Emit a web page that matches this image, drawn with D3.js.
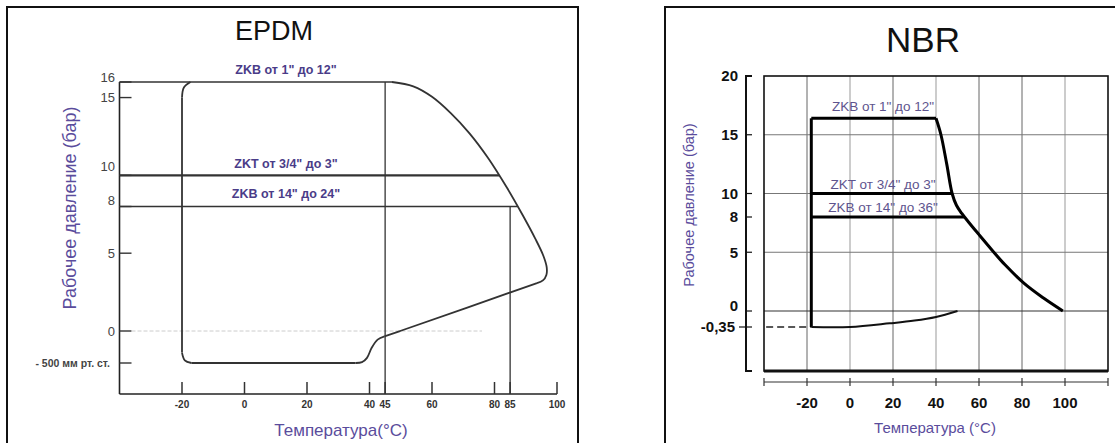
<!DOCTYPE html>
<head>
  <meta http-equiv="Content-Type" content="text/html; charset=utf-8">
  <style>
    body { margin: 0; background: #fff; }
    text { font-family: "Liberation Sans", Arial, sans-serif; }
  </style>
</head>
<body></body>
<script src="https://d3js.org/d3.v7.min.js"></script>
<script>

var width = 1115,
    height = 443;

// ---------- EPDM data ----------
var epdmXTicks = [-20, 0, 20, 40, 45, 60, 80, 85, 100];
var epdmYTicks = [16, 15, 10, 8, 5, 0, -0.667];           // -500 mm Hg ~ -0.667 bar
var epdmYLabels = ["16", "15", "10", "8", "5", "0", "- 500 мм рт. ст."];
var epdmRightCurve = [[47.2,16],[54,15.72],[60,15.05],[66,14.0],[72,12.7],[78,11.1],[84,9.2],
                      [89,7.45],[93,5.95],[95.6,4.85],[96.7,4.1],[96.6,3.6],[95.5,3.25],[93.6,3.08]];
var epdmSlope = [[93.6,3.08],[49.8,0],[44.8,-0.11]];
var epdmLowCurve = [[44.8,-0.11],[42.6,-0.18],[40.7,-0.35],[39.2,-0.56],[37.6,-0.65],[35.5,-0.667]];
var epdmBottom = [[35.5,-0.667],[-17,-0.667]];
var epdmLowCorner = [[-17,-0.667],[-19.1,-0.61],[-20,-0.45]];
var epdmLeft = [[-20,-0.45],[-20,15]];
var epdmTopCorner = [[-20,15],[-19.4,15.65],[-17.3,16]];
var epdmLines = [   // pressure level, end temperature, label
  {p: 16, to: 47.2, w: 1.4, label: 'ZKB от 1" до 12"'},
  {p: 10, to: 81.5, w: 2.4, label: 'ZKT от 3/4" до 3"'},
  {p: 8,  to: 87.4, w: 1.4, label: 'ZKB от 14" до 24"'}
];
var epdmVerticals = [{t: 45, top: 16}, {t: 85, top: 8}];

// ---------- NBR data ----------
var nbrXTicks = [-20, 0, 20, 40, 60, 80, 100];
var nbrXAxisEnds = [-40, 120];
var nbrYTicks = [20, 15, 10, 8, 5, 0, -0.35];
var nbrYLabels = ["20", "15", "10", "8", "5", "0", "-0,35"];
var nbrGridX = [-20, 0, 20, 40, 60, 80, 100];
var nbrGridY = [15, 10, 5];
var nbrTop = [[-18,16.4],[40,16.4]];
var nbrCurve = [[40,16.4],[42.3,15],[45,12.5],[47.5,10],[49.5,9],[52,8.3],[55,7.6],[60,6.5],
                [66,5.2],[72,3.95],[81,2.35],[90,1.1],[99,0]];
var nbrLeft = [[-18,16.4],[-18,-0.35]];
var nbrBottom = [[-18,-0.35],[0,-0.35],[18.5,-0.27],[30,-0.21],[40,-0.13],[50,0]];
var nbrLines = [
  {p: 10, to: 47.5, label: 'ZKT от 3/4" до 3"'},
  {p: 8,  to: 53.3, label: 'ZKB от 14" до 36"'}
];

var purple = "#5a4c9c",
    purpleDark = "#4a3c88";

var svg = d3.select("body").append("svg")
    .attr("width", width)
    .attr("height", height);

// ================= EPDM =================
var xs1 = d3.scaleLinear().domain([-40, 100]).range([119.5, 557]);
var ys1 = d3.scaleLinear().domain([-1.31, -0.667, 0, 16]).range([394, 363, 331, 82]);

var g1 = svg.append("g");

g1.append("path")
    .attr("d", "M7,446 V7 H578 V446")
    .attr("fill", "none").attr("stroke", "#111").attr("stroke-width", 2);

g1.append("text").attr("x", 274).attr("y", 40).attr("text-anchor", "middle")
    .attr("font-size", 27).attr("fill", "#111").text("EPDM");

// axes
g1.append("line").attr("x1", xs1(-40)).attr("x2", xs1(-40))
    .attr("y1", ys1(16)).attr("y2", ys1(-1.31))
    .attr("stroke", "#222").attr("stroke-width", 1.6);
g1.append("line").attr("x1", xs1(-40)).attr("x2", xs1(100))
    .attr("y1", ys1(-1.31)).attr("y2", ys1(-1.31))
    .attr("stroke", "#222").attr("stroke-width", 1.6);

g1.selectAll(".xt").data(epdmXTicks).enter().append("line")
    .attr("x1", function(d){return xs1(d);}).attr("x2", function(d){return xs1(d);})
    .attr("y1", ys1(-1.31)).attr("y2", ys1(-1.31) - 12)
    .attr("stroke", "#333").attr("stroke-width", 1.5);
g1.selectAll(".xl").data(epdmXTicks).enter().append("text")
    .attr("x", function(d){return xs1(d);}).attr("y", 408)
    .attr("text-anchor", "middle").attr("font-size", 10).attr("font-weight", "bold")
    .attr("fill", "#333").text(function(d){return d;});

var nudge1 = {16: -5, 10: -9, 8: -6};
g1.selectAll(".yt").data(epdmYTicks).enter().append("line")
    .attr("x1", xs1(-40)).attr("x2", xs1(-40) + 12)
    .attr("y1", function(d){return ys1(d);}).attr("y2", function(d){return ys1(d);})
    .attr("stroke", "#333").attr("stroke-width", 1.4);
g1.selectAll(".yl").data(epdmYTicks).enter().append("text")
    .attr("x", function(d, i){return i == 6 ? 110 : 115;})
    .attr("y", function(d){return ys1(d) + (nudge1[d] || 0);})
    .attr("dy", "0.35em").attr("text-anchor", "end")
    .attr("font-size", function(d, i){return i == 6 ? 10.5 : 13;})
    .attr("font-weight", function(d, i){return i == 6 ? "bold" : "normal";})
    .attr("fill", "#444").text(function(d, i){return epdmYLabels[i];});

// zero reference
g1.append("line").attr("x1", xs1(-40) + 12).attr("x2", xs1(76))
    .attr("y1", ys1(0)).attr("y2", ys1(0))
    .attr("stroke", "#ccc").attr("stroke-width", 1).attr("stroke-dasharray", "4,2");

// verticals
g1.selectAll(".vt").data(epdmVerticals).enter().append("line")
    .attr("x1", function(d){return xs1(d.t);}).attr("x2", function(d){return xs1(d.t);})
    .attr("y1", ys1(-1.31)).attr("y2", function(d){return ys1(d.top);})
    .attr("stroke", "#333").attr("stroke-width", 1.3);

// pressure lines
g1.selectAll(".pl").data(epdmLines).enter().append("line")
    .attr("x1", xs1(-40)).attr("x2", function(d){return xs1(d.to);})
    .attr("y1", function(d){return ys1(d.p);}).attr("y2", function(d){return ys1(d.p);})
    .attr("stroke", "#333").attr("stroke-width", function(d){return d.w;});

var labelY1 = [74, 168, 198];
g1.selectAll(".plab").data(epdmLines).enter().append("text")
    .attr("x", 286).attr("y", function(d, i){return labelY1[i];})
    .attr("text-anchor", "middle").attr("font-size", 12.5).attr("font-weight", "bold")
    .attr("fill", purpleDark).text(function(d){return d.label;});

// envelope
var line1 = d3.line()
    .x(function(d){return xs1(d[0]);})
    .y(function(d){return ys1(d[1]);})
    .curve(d3.curveCatmullRom.alpha(0.5));
[epdmRightCurve, epdmSlope, epdmLowCurve, epdmBottom, epdmLowCorner, epdmLeft, epdmTopCorner]
  .forEach(function(seg){
    g1.append("path").attr("d", line1(seg))
      .attr("fill", "none").attr("stroke", "#333").attr("stroke-width", 1.8);
  });

g1.append("text").attr("transform", "translate(76,208) rotate(-90)")
    .attr("text-anchor", "middle").attr("font-size", 18).attr("fill", purple)
    .text("Рабочее давление (бар)");
g1.append("text").attr("x", 341).attr("y", 436).attr("text-anchor", "middle")
    .attr("font-size", 17).attr("fill", purple).text("Температура(°C)");

// ================= NBR =================
var xs2 = d3.scaleLinear().domain([-40, 120]).range([764, 1108]);
var ys2 = d3.scaleLinear().domain([-1.31, -0.35, 0, 20]).range([371, 327, 311, 76]);

var g2 = svg.append("g");

g2.append("path")
    .attr("d", "M665,446 V7 H1120")
    .attr("fill", "none").attr("stroke", "#111").attr("stroke-width", 2);

g2.append("text").attr("x", 923).attr("y", 52).attr("text-anchor", "middle")
    .attr("font-size", 35).attr("fill", "#111").text("NBR");

// grid
g2.selectAll(".gx").data(nbrGridX).enter().append("line")
    .attr("x1", function(d){return xs2(d);}).attr("x2", function(d){return xs2(d);})
    .attr("y1", ys2(20)).attr("y2", ys2(-1.31))
    .attr("stroke", function(d){return (d == 0 || d == 40 || d == 100) ? "#999" : "#666";})
    .attr("stroke-width", 1);
g2.selectAll(".gy").data(nbrGridY).enter().append("line")
    .attr("x1", xs2(-40)).attr("x2", xs2(120))
    .attr("y1", function(d){return ys2(d);}).attr("y2", function(d){return ys2(d);})
    .attr("stroke", "#777").attr("stroke-width", 1);
g2.append("line")
    .attr("x1", xs2(-40)).attr("x2", xs2(120)).attr("y1", ys2(0)).attr("y2", ys2(0))
    .attr("stroke", "#333").attr("stroke-width", 1.2);

// plot frame
g2.append("rect").attr("x", xs2(-40)).attr("y", ys2(20))
    .attr("width", xs2(120) - xs2(-40)).attr("height", ys2(-1.31) - ys2(20))
    .attr("fill", "none").attr("stroke", "#111").attr("stroke-width", 1.6);
g2.append("line").attr("x1", xs2(-40)).attr("x2", xs2(120))
    .attr("y1", ys2(-1.31)).attr("y2", ys2(-1.31))
    .attr("stroke", "#111").attr("stroke-width", 3);

// y axis
g2.append("path")
    .attr("d", "M752," + ys2(20) + " H746 V" + ys2(-1.31) + " H752")
    .attr("fill", "none").attr("stroke", "#111").attr("stroke-width", 2);
g2.selectAll(".yt").data(nbrYTicks.slice(1)).enter().append("line")
    .attr("x1", function(d){return d < 0 ? 739 : 746;}).attr("x2", 752)
    .attr("y1", function(d){return ys2(d);}).attr("y2", function(d){return ys2(d);})
    .attr("stroke", "#111").attr("stroke-width", 1.2);
g2.selectAll(".yl").data(nbrYTicks).enter().append("text")
    .attr("x", function(d){return d < 0 ? 735 : 738;})
    .attr("y", function(d){return ys2(d) + (d == 0 ? -5 : 0);})
    .attr("dy", "0.35em").attr("text-anchor", "end")
    .attr("font-size", 15).attr("font-weight", "bold").attr("fill", "#111")
    .text(function(d, i){return nbrYLabels[i];});

// x axis
g2.append("line").attr("x1", xs2(-40)).attr("x2", xs2(120)).attr("y1", 382).attr("y2", 382)
    .attr("stroke", "#333").attr("stroke-width", 1.2);
g2.selectAll(".xt").data(nbrXTicks.concat(nbrXAxisEnds)).enter().append("line")
    .attr("x1", function(d){return xs2(d);}).attr("x2", function(d){return xs2(d);})
    .attr("y1", 378).attr("y2", 386)
    .attr("stroke", "#333").attr("stroke-width", 1.2);
g2.selectAll(".xl").data(nbrXTicks).enter().append("text")
    .attr("x", function(d){return xs2(d);}).attr("y", 408)
    .attr("text-anchor", "middle").attr("font-size", 15).attr("font-weight", "bold")
    .attr("fill", "#111").text(function(d){return d;});

// dashed start at -0,35
g2.append("line").attr("x1", xs2(-39)).attr("x2", xs2(-18))
    .attr("y1", ys2(-0.35)).attr("y2", ys2(-0.35))
    .attr("stroke", "#222").attr("stroke-width", 1.3).attr("stroke-dasharray", "7,4");

// envelope
var line2 = d3.line()
    .x(function(d){return xs2(d[0]);})
    .y(function(d){return ys2(d[1]);})
    .curve(d3.curveCatmullRom.alpha(0.5));
[nbrTop, nbrCurve, nbrLeft].forEach(function(seg){
  g2.append("path").attr("d", line2(seg))
    .attr("fill", "none").attr("stroke", "#000").attr("stroke-width", 3);
});
g2.append("path").attr("d", line2(nbrBottom))
    .attr("fill", "none").attr("stroke", "#111").attr("stroke-width", 2);

g2.selectAll(".pl").data(nbrLines).enter().append("line")
    .attr("x1", xs2(-18)).attr("x2", function(d){return xs2(d.to);})
    .attr("y1", function(d){return ys2(d.p);}).attr("y2", function(d){return ys2(d.p);})
    .attr("stroke", "#000").attr("stroke-width", 3);

var nbrLabels = ['ZKB от 1" до 12"', 'ZKT от 3/4" до 3"', 'ZKB от 14" до 36"'];
var labelY2 = [111, 189, 212];
g2.selectAll(".plab").data(nbrLabels).enter().append("text")
    .attr("x", 883).attr("y", function(d, i){return labelY2[i];})
    .attr("text-anchor", "middle").attr("font-size", 13.5)
    .attr("fill", "#5e548e").text(function(d){return d;});

g2.append("text").attr("transform", "translate(694,205) rotate(-90)")
    .attr("text-anchor", "middle").attr("font-size", 14.5).attr("fill", purple)
    .text("Рабочее давление (бар)");
g2.append("text").attr("x", 935).attr("y", 433).attr("text-anchor", "middle")
    .attr("font-size", 15).attr("fill", purple).text("Температура (°C)");

</script>
</html>
